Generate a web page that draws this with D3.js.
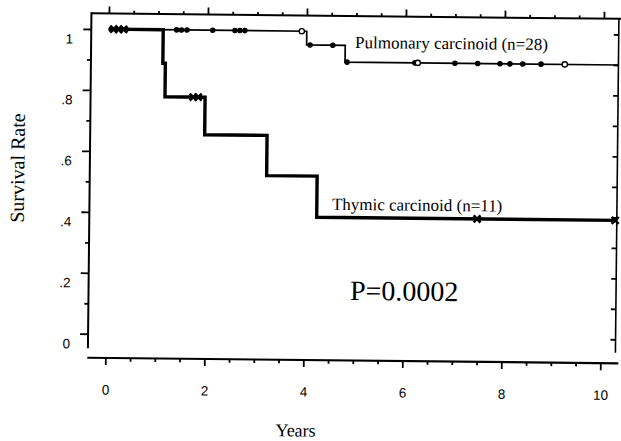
<!DOCTYPE html>
<html>
<head>
<meta charset="utf-8">
<script src="https://cdn.jsdelivr.net/npm/d3@7"></script>
<style>
  html, body { margin: 0; padding: 0; background: #fff; }
  svg { display: block; }
</style>
</head>
<body>
<svg id="chart" width="621" height="441"></svg>
<script>
// axis ticks
const years = [0, 2, 4, 6, 8, 10];
const rateTicks = [0, 0.2, 0.4, 0.6, 0.8, 1];
const rateLabels = ["0", ".2", ".4", ".6", ".8", "1"];

// Kaplan-Meier steps (time in years, survival rate)
const pulmTimes = [0, 4.0, 4.78, 10.3];
const pulmSurv = [1, 0.955, 0.9, 0.9];
const thymTimes = [0, 1.1, 1.15, 1.96, 3.22, 4.24, 10.3];
const thymSurv = [1, 0.89, 0.78, 0.657, 0.525, 0.39, 0.39];

// censored patients
const pulmCensored = [0.05, 0.15, 0.25, 0.35, 1.37, 1.47, 1.58, 2.1, 2.55, 2.65, 2.75,
  4.07, 4.53, 4.82, 6.19, 7.0, 7.46, 7.91, 8.11, 8.37, 8.74];
const pulmCensoredOpen = [3.9, 6.25, 9.22];
const thymCensored = [0.1, 0.2, 0.3, 1.72, 1.82, 7.48, 10.27];

const svg = d3.select("#chart");
// the scanned figure is tilted a little
const g = svg.append("g").attr("transform", "rotate(0.6, 350, 200)");

const x = d3.scaleLinear().domain([0, 10]).range([107, 602]);
const y = d3.scaleLinear().domain([0, 1]).range([336.5, 31.7]);

const frameLeft = 89.5, frameRight = 617, frameTop = 16, frameBottom = 360.5;

// frame
const frame = g.append("g").attr("stroke", "#000").attr("fill", "none");
frame.append("line").attr("x1", frameLeft).attr("x2", 624).attr("y1", frameTop).attr("y2", frameTop).attr("stroke-width", 2);
frame.append("line").attr("x1", frameLeft).attr("x2", frameLeft).attr("y1", frameTop - 1).attr("y2", 351).attr("stroke-width", 2);
frame.append("line").attr("x1", frameRight).attr("x2", frameRight).attr("y1", frameTop).attr("y2", 350).attr("stroke-width", 1.6);
frame.append("line").attr("x1", 89).attr("x2", 620).attr("y1", frameBottom).attr("y2", frameBottom).attr("stroke-width", 2.2);

function styleAxis(sel) {
  sel.select(".domain").remove();
  sel.selectAll(".tick line").attr("stroke", "#000").attr("stroke-width", 1.8);
  sel.selectAll("text")
    .attr("font-family", "'Liberation Sans', Arial, sans-serif")
    .attr("font-size", 13.5)
    .attr("fill", "#000");
}

const halfYears = d3.range(0, 10.01, 0.5).filter(v => v % 2 !== 0);
const tenths = d3.range(0, 1.001, 0.1).map(v => +v.toFixed(1)).filter(v => Math.round(v * 10) % 2 !== 0);

// bottom axis
g.append("g").attr("transform", `translate(0,${frameBottom})`)
  .call(d3.axisBottom(x).tickValues(years).tickSize(7).tickPadding(20).tickFormat(d3.format("d")))
  .call(styleAxis);
g.append("g").attr("transform", `translate(0,${frameBottom})`)
  .call(d3.axisBottom(x).tickValues(halfYears).tickSize(3.5).tickFormat(""))
  .call(styleAxis);

// top axis (ticks only)
g.append("g").attr("transform", `translate(0,${frameTop})`)
  .call(d3.axisTop(x).tickValues(years).tickSize(7).tickFormat(""))
  .call(styleAxis);
g.append("g").attr("transform", `translate(0,${frameTop})`)
  .call(d3.axisTop(x).tickValues(halfYears).tickSize(3).tickFormat(""))
  .call(styleAxis);

// left axis
g.append("g").attr("transform", `translate(${frameLeft},0)`)
  .call(d3.axisLeft(y).tickValues(rateTicks).tickSize(8).tickPadding(10)
    .tickFormat((d, i) => rateLabels[i]))
  .call(styleAxis)
  .selectAll("text").attr("dy", "1.05em");
g.append("g").attr("transform", `translate(${frameLeft},0)`)
  .call(d3.axisLeft(y).tickValues(tenths).tickSize(4).tickFormat(""))
  .call(styleAxis);

// right axis (inner ticks)
g.append("g").attr("transform", `translate(${frameRight},0)`)
  .call(d3.axisLeft(y).tickValues(d3.range(0, 1.001, 0.1)).tickSize(5).tickFormat(""))
  .call(styleAxis);

// survival curves
const line = d3.line().x(d => x(d[0])).y(d => y(d[1])).curve(d3.curveStepAfter);
const pulm = d3.zip(pulmTimes, pulmSurv);
const thym = d3.zip(thymTimes, thymSurv);

g.append("path").datum(pulm).attr("d", line)
  .attr("fill", "none").attr("stroke", "#000").attr("stroke-width", 1.7);
g.append("path").datum(thym).attr("d", line)
  .attr("fill", "none").attr("stroke", "#000").attr("stroke-width", 3.4);

function survAt(times, surv, t) {
  let v = surv[0];
  times.forEach((tt, i) => { if (tt <= t) v = surv[i]; });
  return v;
}

g.selectAll(".pc").data(pulmCensored).join("circle")
  .attr("class", "pc")
  .attr("cx", d => x(d)).attr("cy", d => y(survAt(pulmTimes, pulmSurv, d)))
  .attr("r", 2.8).attr("fill", "#000");
g.selectAll(".po").data(pulmCensoredOpen).join("circle")
  .attr("class", "po")
  .attr("cx", d => x(d)).attr("cy", d => y(survAt(pulmTimes, pulmSurv, d)))
  .attr("r", 2.6).attr("fill", "#fff").attr("stroke", "#000").attr("stroke-width", 1.4);

const xs = 3.5;
g.selectAll(".tc").data(thymCensored).join("path")
  .attr("class", "tc")
  .attr("d", d => {
    const cx = x(d), cy = y(survAt(thymTimes, thymSurv, d));
    return `M${cx - xs},${cy - xs}L${cx + xs},${cy + xs}M${cx - xs},${cy + xs}L${cx + xs},${cy - xs}`;
  })
  .attr("stroke", "#000").attr("stroke-width", 2.6);

// labels
const serif = "'Liberation Serif', 'Times New Roman', serif";
g.append("text").attr("x", 353.5).attr("y", 48).attr("font-family", serif).attr("font-size", 17)
  .text("Pulmonary carcinoid (n=28)");
g.append("text").attr("x", 332).attr("y", 210).attr("font-family", serif).attr("font-size", 17)
  .text("Thymic carcinoid (n=11)");
g.append("text").attr("x", 351).attr("y", 300).attr("font-family", serif).attr("font-size", 28)
  .text("P=0.0002");
g.append("text").attr("transform", "translate(24,171.5) rotate(-90)").attr("text-anchor", "middle")
  .attr("font-family", serif).attr("font-size", 20).text("Survival Rate");
g.append("text").attr("x", 298).attr("y", 437).attr("text-anchor", "middle")
  .attr("font-family", serif).attr("font-size", 18).text("Years");
</script>
</body>
</html>
